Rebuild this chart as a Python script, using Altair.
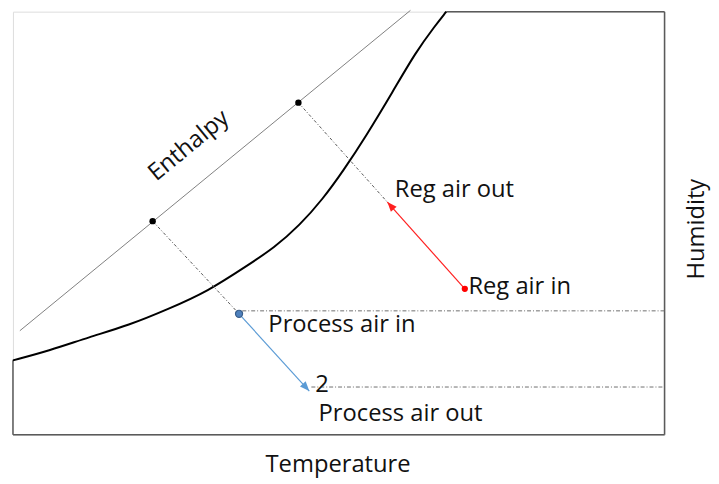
import math
import altair as alt
import pandas as pd

# ---- data (chart units: temperature 0-100 across, humidity 0-100 up) ----
curve_x = [0, 5.6, 11.7, 17.8, 23.8, 29.9, 35.96, 40.1, 44.0, 47.6, 50.7, 54.2, 58.3, 61.8, 64.8, 66.5]
curve_y = [17.6, 19.9, 23.1, 25.9, 29.7, 33.9, 40.0, 44.2, 49.5, 55.8, 62.4, 70.6, 81.1, 90.4, 96.7, 100]

box_x1 = [0, 0, 100, 66.5]
box_y1 = [0, 0, 0, 100]
box_x2 = [0, 100, 100, 100]
box_y2 = [17.6, 0, 100, 100]

enth_x = [1.06, 61.0]
enth_y = [24.6, 100.3]
enth_dot_x = [21.44, 43.81]
enth_dot_y = [50.5, 78.5]

dotted_x1 = [21.44, 43.81]
dotted_y1 = [50.5, 78.5]
dotted_x2 = [34.7, 57.46]
dotted_y2 = [28.6, 55.0]

hline_x1 = [35.2, 45.8]
hline_x2 = [100, 100]
hline_y = [29.3, 11.3]

process_in = (34.7, 28.6)
process_out = (45.48, 10.35)
reg_in = (69.35, 34.5)
reg_out = (57.46, 55.0)

labels = ["Process air in", "2", "Process air out", "Reg air out", "Reg air in"]
label_x = [39.2, 46.4, 46.9, 58.6, 69.9]
label_y = [24.2, 10.2, 3.3, 56.3, 33.2]

W, H = 659, 428
FONT = "Open Sans"
FS = 24

xs = alt.Scale(domain=[0, 100], nice=False, zero=False)
ys = alt.Scale(domain=[0, 100], nice=False, zero=False)
X = lambda f: alt.X(f, type="quantitative", scale=xs, axis=None)
Y = lambda f: alt.Y(f, type="quantitative", scale=ys, axis=None)

# box
box_df = pd.DataFrame({"x": box_x1, "y": box_y1, "x2": box_x2, "y2": box_y2})
box = alt.Chart(box_df).mark_rule(color="#5a5a5a", strokeWidth=1.5).encode(
    x=X("x"), y=Y("y"), x2="x2", y2="y2")

# saturation curve
curve_df = pd.DataFrame({"x": curve_x, "y": curve_y, "o": list(range(len(curve_x)))})
curve = alt.Chart(curve_df).mark_line(color="black", strokeWidth=2, interpolate="basis").encode(
    x=X("x"), y=Y("y"), order="o:Q")

# enthalpy line
enth_df = pd.DataFrame({"x": [enth_x[0]], "y": [enth_y[0]], "x2": [enth_x[1]], "y2": [enth_y[1]]})
enth = alt.Chart(enth_df).mark_rule(color="#808080", strokeWidth=1).encode(
    x=X("x"), y=Y("y"), x2="x2", y2="y2")

dotted_df = pd.DataFrame({"x": dotted_x1, "y": dotted_y1, "x2": dotted_x2, "y2": dotted_y2})
dotted = alt.Chart(dotted_df).mark_rule(color="#555555", strokeWidth=1, strokeDash=[3, 2, 1, 2]).encode(
    x=X("x"), y=Y("y"), x2="x2", y2="y2")

hl_df = pd.DataFrame({"x": hline_x1, "x2": hline_x2, "y": hline_y})
hlines = alt.Chart(hl_df).mark_rule(color="#6e6e6e", strokeWidth=1, strokeDash=[4, 2, 1, 2]).encode(
    x=X("x"), x2="x2", y=Y("y"))

# arrows
arrow_df = pd.DataFrame({
    "x": [process_in[0], reg_in[0]], "y": [process_in[1], reg_in[1]],
    "x2": [process_out[0], reg_out[0]], "y2": [process_out[1], reg_out[1]],
    "c": ["#5b9bd5", "#ff2020"],
})
sx, sy = W / 100.0, H / 100.0
arrow_df["angle"] = [
    (math.degrees(math.atan2((r.x2 - r.x) * sx, (r.y2 - r.y) * sy)) + 360) % 360
    for r in arrow_df.itertuples()
]
arrow_lines = alt.Chart(arrow_df).mark_rule(strokeWidth=1.2).encode(
    x=X("x"), y=Y("y"), x2="x2", y2="y2", color=alt.Color("c:N", scale=None))
heads = alt.Chart(arrow_df).mark_point(
    shape="M0,0L0.4,1L-0.4,1Z", filled=True, size=380, opacity=1, strokeWidth=0).encode(
    x=X("x2"), y=Y("y2"), color=alt.Color("c:N", scale=None), angle=alt.Angle("angle:Q", scale=None))

# dots
dots_df = pd.DataFrame({
    "x": enth_dot_x + [process_in[0], reg_in[0]],
    "y": enth_dot_y + [process_in[1], reg_in[1]],
    "c": ["black", "black", "#4f81bd", "#ff0000"],
    "z": [42, 42, 52, 40],
})
dots = alt.Chart(dots_df).mark_circle(opacity=1).encode(
    x=X("x"), y=Y("y"), color=alt.Color("c:N", scale=None), size=alt.Size("z:Q", scale=None))
blue_ring = alt.Chart(dots_df.iloc[[2]]).mark_point(filled=False, color="#385d8a", strokeWidth=1.2, size=52, opacity=1).encode(
    x=X("x"), y=Y("y"))

# labels
lab_df = pd.DataFrame({"t": labels, "x": label_x, "y": label_y})
labs = alt.Chart(lab_df).mark_text(align="left", baseline="alphabetic", font=FONT, fontSize=FS, color="#111111").encode(
    x=X("x"), y=Y("y"), text="t:N")

enth_lab = alt.Chart(pd.DataFrame({"t": ["Enthalpy"], "x": [27.0], "y": [68.3]})).mark_text(
    align="center", baseline="middle", angle=320.5, font=FONT, fontSize=FS, color="#111111").encode(
    x=X("x"), y=Y("y"), text="t:N")

temp_lab = alt.Chart(pd.DataFrame({"t": ["Temperature"], "x": [49.9], "y": [-8.8]})).mark_text(
    align="center", baseline="alphabetic", font=FONT, fontSize=FS, color="#111111").encode(
    x=X("x"), y=Y("y"), text="t:N")

hum_lab = alt.Chart(pd.DataFrame({"t": ["Humidity"], "x": [106.0], "y": [48.6]})).mark_text(
    align="center", baseline="alphabetic", angle=270, font=FONT, fontSize=FS, color="#111111").encode(
    x=X("x"), y=Y("y"), text="t:N")

chart = alt.layer(
    box, curve, enth, dotted, hlines, arrow_lines, heads, dots, blue_ring,
    labs, enth_lab, temp_lab, hum_lab
).properties(
    width=W, height=H,
    autosize=alt.AutoSizeParams(type="none"),
    padding={"left": 5, "top": 1, "right": 47, "bottom": 46},
).configure_view(stroke=None).configure(background="white")

chart.save("out.html", embed_options={"renderer": "svg", "actions": False})
